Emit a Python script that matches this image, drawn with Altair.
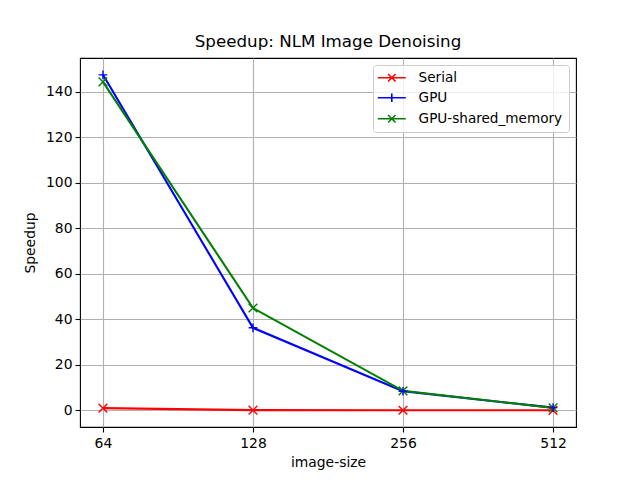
import altair as alt
import pandas as pd

sizes = ["64", "128", "256", "512"]
serial = [1.0, 0.1, 0.05, 0.03]
gpu = [147.5, 36.3, 8.4, 1.2]
gpu_shared = [144.4, 45.0, 8.6, 1.1]
series_names = ["Serial", "GPU", "GPU-shared_memory"]
colors = ["#ff0000", "#0000ff", "#008000"]

rows = []
for name, vals in zip(series_names, [serial, gpu, gpu_shared]):
    for s, v in zip(sizes, vals):
        rows.append({"size": s, "speedup": v, "series": name})
df = pd.DataFrame(rows)

FONT = "DejaVu Sans"
X_PATH = "M-1,-1L1,1M-1,1L1,-1"
PLUS_PATH = "M-1,0L1,0M0,-1L0,1"
LEG_X = "M-2.8,0L2.8,0M-0.75,-0.75L0.75,0.75M-0.75,0.75L0.75,-0.75"
LEG_PLUS = "M-2.8,0L2.8,0M0,-0.85L0,0.85M-0.85,0L0.85,0"

x_enc = alt.X("size:O", sort=sizes,
              scale=alt.Scale(type="point", padding=0.153),
              axis=alt.Axis(title="image-size", grid=True, labelAngle=0))
y_enc = alt.Y("speedup:Q",
              scale=alt.Scale(domain=[-7.3, 154.9], nice=False, zero=False),
              axis=alt.Axis(title="Speedup", values=[0, 20, 40, 60, 80, 100, 120, 140],
                            grid=True))
color_enc = alt.Color("series:N", sort=series_names,
                      scale=alt.Scale(domain=series_names, range=colors))

base = alt.Chart(df)

lines = base.mark_line(strokeWidth=2.1).encode(
    x=x_enc, y=y_enc, color=color_enc, detail="series:N")

pts_x = base.transform_filter(alt.datum.series != "GPU").mark_point(
    shape=X_PATH, filled=False, size=75, strokeWidth=1.4, opacity=1).encode(
    x=x_enc, y=y_enc, color=color_enc)

pts_plus = base.transform_filter(alt.datum.series == "GPU").mark_point(
    shape=PLUS_PATH, filled=False, size=75, strokeWidth=1.4, opacity=1).encode(
    x=x_enc, y=y_enc, color=color_enc)

legend_layer = base.mark_point(filled=False, opacity=0, size=10).encode(
    x=x_enc, y=y_enc,
    color=alt.Color("series:N", sort=series_names,
                    scale=alt.Scale(domain=series_names, range=colors),
                    legend=alt.Legend(title=None, orient="none", legendX=293, legendY=7,
                                      symbolOpacity=1, symbolSize=100,
                                      symbolStrokeWidth=1.6, symbolOffset=6,
                                      labelOffset=20,
                                      labelFontSize=13.6, labelFont=FONT,
                                      labelColor="black",
                                      rowPadding=5, padding=6,
                                      fillColor="rgba(255,255,255,0.8)",
                                      strokeColor="#cccccc", cornerRadius=3)),
    shape=alt.Shape("series:N", sort=series_names,
                    scale=alt.Scale(domain=series_names, range=[LEG_X, LEG_PLUS, LEG_X])))

chart = alt.layer(lines, pts_x, pts_plus, legend_layer).properties(
    width=496, height=369,
    background="white",
    title=alt.Title("Speedup: NLM Image Denoising", font=FONT, fontSize=16.7,
                    fontWeight="normal", offset=7, anchor="middle", color="black"),
    autosize=alt.AutoSizeParams(type="none"),
    padding={"left": 80, "top": 58, "right": 64, "bottom": 53},
).configure_view(stroke="black", strokeWidth=1.1).configure_axis(
    labelFont=FONT, labelFontSize=13.9, labelColor="black",
    titleFont=FONT, titleFontSize=13.9, titleFontWeight="normal", titleColor="black",
    gridColor="#b0b0b0", gridWidth=1.1, tickColor="black", tickSize=5, tickWidth=1.1,
    domain=False, labelPadding=3,
).configure_axisX(titlePadding=6, labelPadding=4).configure_axisY(titlePadding=8)

chart.save("out.html", embed_options={"renderer": "svg", "actions": False})
